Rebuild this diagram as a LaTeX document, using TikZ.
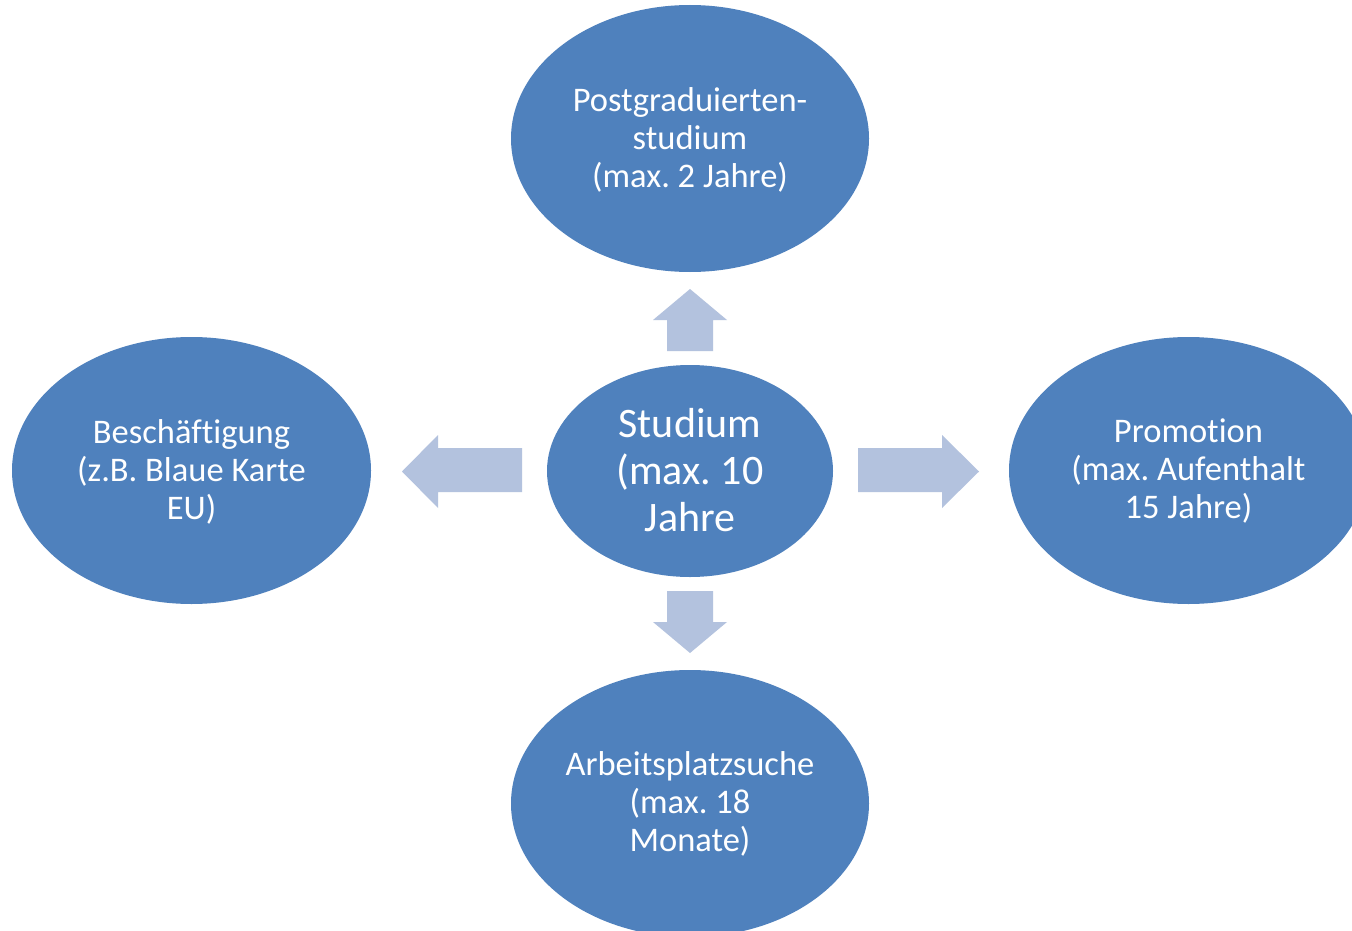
\documentclass[tikz,border=0pt]{standalone}
\usepackage{fontspec}
\setmainfont{Carlito}[RawFeature={-liga;-clig;-calt;-dlig}]
\frenchspacing
\definecolor{ellblue}{HTML}{4F81BD}
\definecolor{arrblue}{HTML}{B3C2DE}
\tikzset{
  ell/.style={fill=ellblue, draw=none},
  lbl/.style={text=white, align=center, inner sep=0pt, font=\fontsize{34.5}{38}\selectfont},
  biglbl/.style={text=white, align=center, inner sep=0pt, font=\fontsize{42}{47}\selectfont},
  blockarrow/.style={fill=arrblue, draw=none}
}
\begin{document}
\begin{tikzpicture}[x=1pt,y=-1pt]
\clip (0,0) rectangle (1352,931);
\fill[white] (0,0) rectangle (1352,931);
% ellipses
\fill[ell] (690,138.5) ellipse [x radius=179, y radius=133.5];
\fill[ell] (191.5,470.5) ellipse [x radius=179.5, y radius=133.5];
\fill[ell] (1188.5,470.5) ellipse [x radius=179.5, y radius=133.5];
\fill[ell] (690,803.5) ellipse [x radius=179, y radius=133.5];
\fill[ell] (690,471) ellipse [x radius=143, y radius=106];
% labels
\node[lbl] (top) at (690,139.5) {Postgraduierten-\\studium\\(max. 2 Jahre)};
\node[lbl] (left) at (191.5,471.5) {Beschäftigung\\(z.B. Blaue Karte\\EU)};
\node[lbl] (right) at (1188.5,471.5) {Promotion\\(max. Aufenthalt\\15 Jahre)};
\node[lbl] (bottom) at (690,803.5) {Arbeitsplatzsuche\\(max. 18\\Monate)};
\node[biglbl] (center) at (690,470) {Studium\\(max. 10\\Jahre};
% block arrows
\fill[blockarrow] (667,351) -- (667,320) -- (653,320) -- (690,289) -- (727,320) -- (713,320) -- (713,351) -- cycle;
\fill[blockarrow] (667,591) -- (667,622) -- (653,622) -- (690,653) -- (727,622) -- (713,622) -- (713,591) -- cycle;
\fill[blockarrow] (522,448) -- (438,448) -- (438,435) -- (402,471.5) -- (438,508) -- (438,492) -- (522,492) -- cycle;
\fill[blockarrow] (858,448) -- (942,448) -- (942,435) -- (979,471.5) -- (942,508) -- (942,492) -- (858,492) -- cycle;
\end{tikzpicture}
\end{document}
